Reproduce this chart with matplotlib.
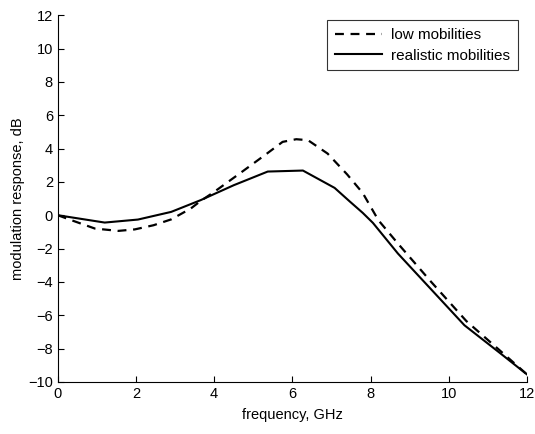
import matplotlib.pyplot as plt

plt.rcParams['font.family'] = ['Liberation Sans', 'DejaVu Sans']

# frequency points (GHz) and responses (dB)
freq_low = [0, 0.35, 0.95, 1.55, 1.97, 2.45, 2.9, 3.4, 3.65, 4.0, 4.65, 5.35, 5.75, 6.1, 6.4, 6.9, 7.4, 7.8, 8.2, 8.7, 9.55, 10.45, 11.3, 12.0]
resp_low = [0, -0.3, -0.8, -0.94, -0.85, -0.6, -0.25, 0.4, 0.85, 1.4, 2.5, 3.7, 4.4, 4.56, 4.5, 3.7, 2.45, 1.33, -0.3, -1.7, -4.0, -6.35, -8.1, -9.55]

freq_real = [0, 1.2, 2.05, 2.9, 3.65, 4.5, 5.37, 6.27, 7.08, 7.47, 7.8, 8.06, 8.7, 9.55, 10.4, 11.3, 12.0]
resp_real = [0, -0.44, -0.26, 0.2, 0.9, 1.8, 2.62, 2.68, 1.64, 0.82, 0.14, -0.46, -2.3, -4.45, -6.6, -8.25, -9.55]

fig = plt.figure(figsize=(5.35, 4.34), dpi=100)
ax = fig.add_axes([0.108, 0.12, 0.877, 0.845])

ax.plot(freq_low, resp_low, color='black', linestyle=(0, (4, 3)), linewidth=1.6, label='low mobilities')
ax.plot(freq_real, resp_real, color='black', linestyle='-', linewidth=1.5, label='realistic mobilities')

ax.set_xlim(0, 12)
ax.set_ylim(-10, 12)
ax.set_xticks(range(0, 13, 2))
ax.set_yticks(range(-10, 13, 2))
ax.spines['top'].set_visible(False)
ax.spines['right'].set_visible(False)
ax.tick_params(direction='in', length=4, labelsize=10.5)

ax.set_xlabel('frequency, GHz', fontsize=10.5, labelpad=5)
ax.set_ylabel('modulation response, dB', fontsize=10.5, labelpad=2)

leg = ax.legend(loc='upper right', bbox_to_anchor=(0.981, 0.986), borderaxespad=0,
                fontsize=11, frameon=True, fancybox=False, handlelength=3.1,
                labelspacing=0.45, handletextpad=0.6, borderpad=0.5)
leg.get_frame().set_edgecolor('black')
leg.get_frame().set_linewidth(0.8)

fig.savefig('out.png', dpi=100)
